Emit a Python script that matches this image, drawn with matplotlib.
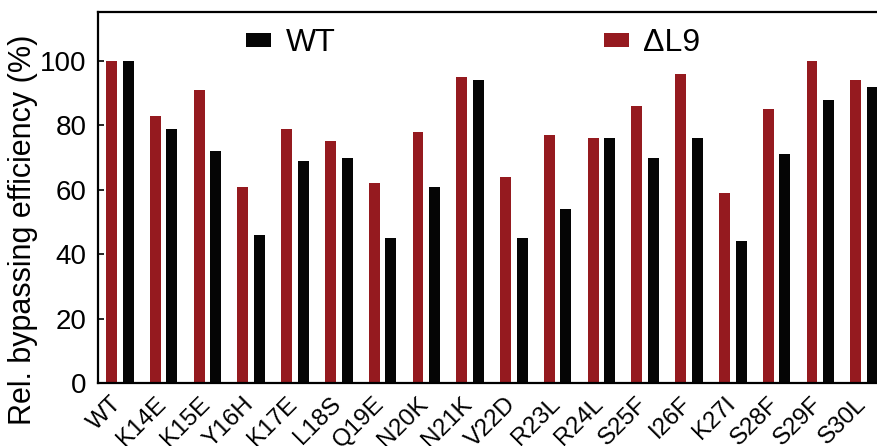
import numpy as np
import matplotlib
matplotlib.use("Agg")
import matplotlib.pyplot as plt
import matplotlib.transforms as mtransforms

# ---- data ----
mutants = ["WT", "K14E", "K15E", "Y16H", "K17E", "L18S", "Q19E", "N20K", "N21K",
           "V22D", "R23L", "R24L", "S25F", "I26F", "K27I", "S28F", "S29F", "S30L"]
dl9_vals = [100, 83, 91, 61, 79, 75, 62, 78, 95, 64, 77, 76, 86, 96, 59, 85, 100, 94]
wt_vals = [100, 79, 72, 46, 69, 70, 45, 61, 94, 45, 54, 76, 70, 76, 44, 71, 88, 92]

RED = "#951a1f"
BLACK = "#050505"

plt.rcParams["font.family"] = ["Liberation Sans", "DejaVu Sans"]

fig = plt.figure(figsize=(8.78, 4.46), dpi=100)
ax = fig.add_axes([0.1116, 0.141, 0.8975, 0.831])

x = np.arange(len(mutants))
w = 0.25
off = 0.19
ax.bar(x - off, dl9_vals, width=w, color=RED, label="\u0394L9")
ax.bar(x + off, wt_vals, width=w, color=BLACK, label="WT")

ax.set_xlim(-0.5, len(mutants) - 0.5)
ax.set_ylim(0, 115)
ax.set_yticks([0, 20, 40, 60, 80, 100])
ax.set_xticks(x)
ax.set_xticklabels(mutants, rotation=45, ha="right", rotation_mode="anchor")
ax.tick_params(axis="y", direction="in", length=4, width=1.2, labelsize=20, pad=8)
ax.tick_params(axis="x", length=0, labelsize=17.5, pad=7)

# nudge the rotated labels a little left, like the original
shift = mtransforms.ScaledTranslation(-9 / 100, 0, fig.dpi_scale_trans)
for lbl in ax.get_xticklabels():
    lbl.set_transform(lbl.get_transform() + shift)

ax.set_ylabel("Rel. bypassing efficiency (%)", fontsize=22)
ax.yaxis.set_label_coords(-0.076, 0.413)

for s in ax.spines.values():
    s.set_linewidth(1.6)

# legend: WT first, then dL9
handles, labels = ax.get_legend_handles_labels()
ax.legend([handles[1], handles[0]], [labels[1], labels[0]],
          loc="upper left", bbox_to_anchor=(0.168, 1.0), ncol=2, frameon=False,
          fontsize=23, handlelength=0.78, handleheight=0.28, handletextpad=0.45,
          columnspacing=8.4, borderaxespad=0.1)

fig.savefig("out.png", dpi=100)
